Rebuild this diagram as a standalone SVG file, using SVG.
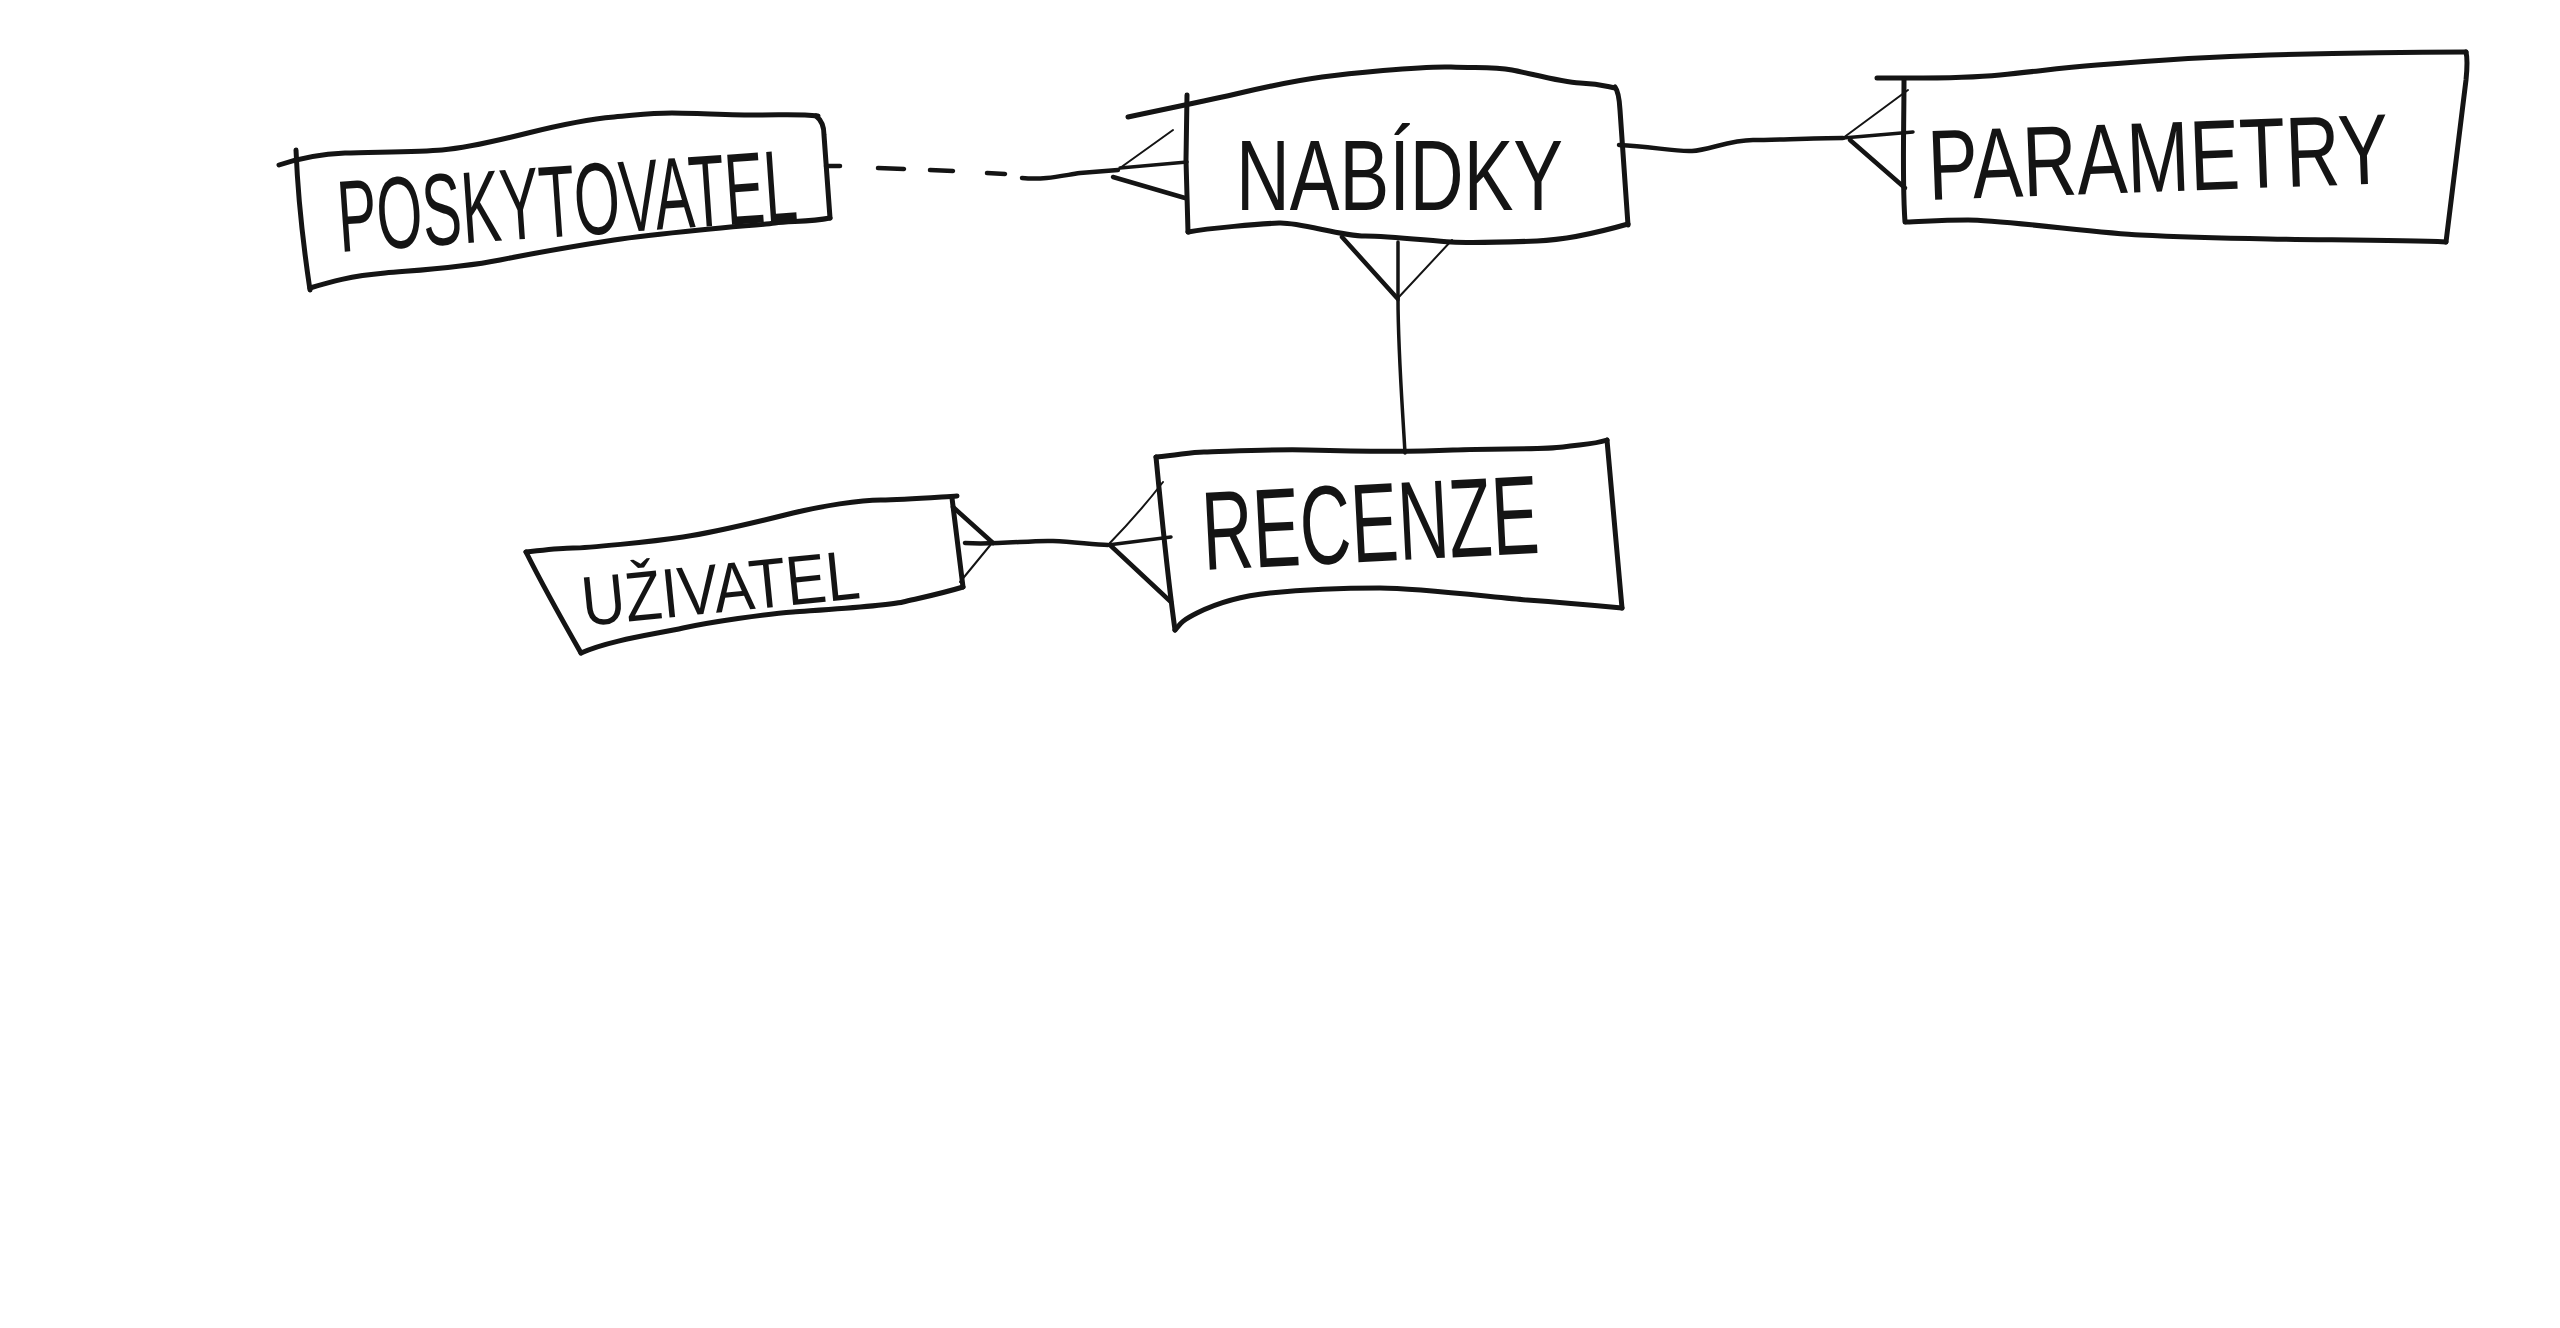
<svg xmlns="http://www.w3.org/2000/svg" width="2560" height="1328" viewBox="0 0 2560 1328">
<style>
.box{fill:none;stroke:#141414;stroke-width:5;stroke-linecap:round;stroke-linejoin:round}
.ln{fill:none;stroke:#141414;stroke-width:4.5;stroke-linecap:round;stroke-linejoin:round}
.thin{fill:none;stroke:#141414;stroke-width:2;stroke-linecap:round;stroke-linejoin:round}
.mid{fill:none;stroke:#141414;stroke-width:3.5;stroke-linecap:round;stroke-linejoin:round}
.lbl{font-family:"Liberation Sans Narrow","Liberation Sans","DejaVu Sans",sans-serif;fill:#141414}
</style>
<rect width="2560" height="1328" fill="#ffffff"/>

<g id="node-poskytovatel">
<path class="box" d="M279,165 C300,158 320,154 345,153 S420,152 442,150 S500,140 528,133 S590,119 614,117 S650,113 672,113 S730,115 758,115 S800,114 818,116"/>
<path class="box" d="M816,116 Q824,122 824,135 L830,218"/>
<path class="box" d="M830,218 C810,222 790,221 775,223 S740,226 700,230 S640,236 614,240 S540,252 500,260 S420,270 385,273 S330,282 310,288"/>
<path class="box" d="M296,150 C298,200 304,250 310,290"/>
<text class="lbl" x="340" y="252" font-size="102" textLength="460" lengthAdjust="spacingAndGlyphs" transform="rotate(-4 340 252)">POSKYTOVATEL</text>
</g>

<g id="node-nabidky">
<path class="box" d="M1128,117 C1170,108 1210,100 1240,93 S1300,80 1322,77 S1420,66 1451,67 S1495,67 1512,70 S1560,82 1580,83 S1605,86 1615,88"/>
<path class="box" d="M1187,95 L1186,160 L1188,232"/>
<path class="box" d="M1615,87 Q1619,92 1620,110 L1628,225"/>
<path class="box" d="M1628,224 C1600,232 1565,240 1537,241 S1470,243 1451,242 S1390,236 1365,236 S1300,222 1279,223 S1210,228 1188,232"/>
<text class="lbl" x="1236" y="210" font-size="100" textLength="327" lengthAdjust="spacingAndGlyphs">NABÍDKY</text>
</g>

<g id="node-parametry">
<path class="box" d="M1877,78 C1920,78 1960,79 2000,75 S2060,68 2097,65 S2200,57 2269,55 S2400,52 2466,52"/>
<path class="box" d="M2466,52 Q2468,60 2466,80 L2446,242"/>
<path class="box" d="M2446,242 C2400,240 2320,240 2269,239 S2180,237 2140,235 S2000,220 1968,220 S1920,222 1906,222"/>
<path class="box" d="M1904,80 C1904,130 1902,180 1905,222"/>
<text class="lbl" x="1929" y="200" font-size="100" textLength="461" lengthAdjust="spacingAndGlyphs" transform="rotate(-2.1 1929 200)">PARAMETRY</text>
</g>

<g id="node-recenze">
<path class="box" d="M1156,457 C1180,455 1190,452 1204,452 S1270,449 1307,450 S1410,452 1453,450 S1540,450 1563,447 S1595,444 1607,440"/>
<path class="box" d="M1156,457 C1162,520 1168,580 1175,630"/>
<path class="box" d="M1607,440 C1612,500 1618,560 1622,608"/>
<path class="box" d="M1622,608 C1590,605 1555,602 1527,600 S1420,588 1380,588 S1300,590 1270,593 S1215,604 1197,613 S1180,625 1175,630"/>
<text class="lbl" x="1204" y="570" font-size="112" textLength="337" lengthAdjust="spacingAndGlyphs" transform="rotate(-2.9 1204 570)">RECENZE</text>
</g>

<g id="node-uzivatel">
<path class="box" d="M526,552 C545,550 560,548 573,548 S650,542 683,537 S765,520 793,513 S860,500 881,500 S940,497 957,496"/>
<path class="box" d="M952,498 L963,587"/>
<path class="box" d="M963,587 C940,594 920,598 903,602 S820,610 793,612 S710,622 683,628 S610,640 581,653"/>
<path class="box" d="M526,552 C545,590 565,625 581,653"/>
<text class="lbl" x="584" y="626" font-size="70" textLength="279" lengthAdjust="spacingAndGlyphs" transform="rotate(-5.7 584 626)">UŽIVATEL</text>
</g>

<g id="connectors">
<path class="ln" d="M826,166 L840,166 M878,168 L904,169 M930,170 L953,171 M987,173 L1005,174"/>
<path class="ln" d="M1022,178 C1045,180 1060,176 1080,173 L1118,170"/>
<path class="thin" d="M1120,168 L1173,130"/>
<path class="mid" d="M1120,168 L1187,162"/>
<path class="ln" d="M1113,177 L1185,198"/>
<path class="ln" d="M1619,145 C1650,146 1675,152 1692,151 S1730,140 1753,140 S1810,138 1843,138"/>
<path class="thin" d="M1843,138 L1908,90"/>
<path class="mid" d="M1843,138 L1913,132"/>
<path class="ln" d="M1850,140 L1905,188"/>
<path class="ln" d="M1342,237 L1397,298"/>
<path class="mid" d="M1398,242 L1398,300"/>
<path class="thin" d="M1452,240 L1398,298"/>
<path class="mid" d="M1398,298 C1398,350 1402,400 1405,453"/>
<path class="ln" d="M965,543 C1000,545 1030,540 1053,541 S1095,545 1108,545"/>
<path class="ln" d="M953,507 L993,543"/>
<path class="thin" d="M960,582 L992,543"/>
<path class="thin" d="M1108,545 Q1140,512 1163,482"/>
<path class="mid" d="M1108,545 L1171,537"/>
<path class="ln" d="M1110,545 L1140,573 L1171,602"/>
</g>
</svg>
